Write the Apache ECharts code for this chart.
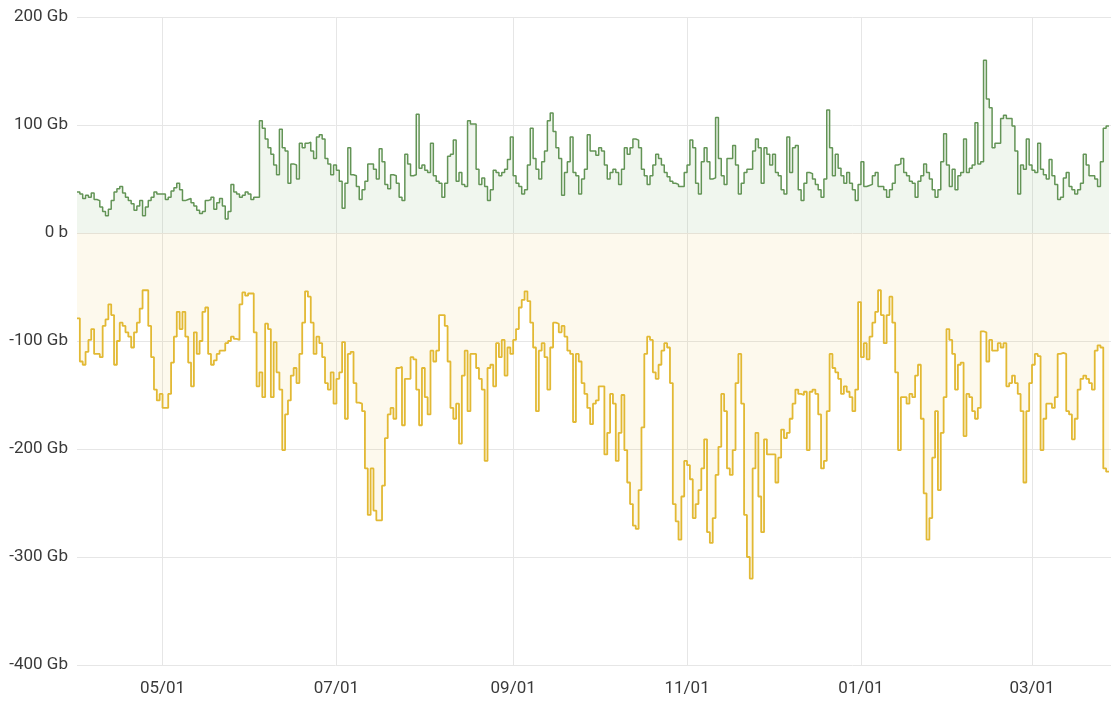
<!DOCTYPE html>
<html>
<head>
<meta charset="utf-8">
<script src="https://cdn.jsdelivr.net/npm/echarts@6/dist/echarts.min.js"></script>
<style>
  html, body { margin: 0; padding: 0; background: #fff; }
  #chart { width: 1111px; height: 702px; }
</style>
</head>
<body>
<div id="chart"></div>
<script>
// daily values, first day 2019-04-01 (Gb)
var startDate = [2019, 3, 1];

var inbound = [
  // Apr
  38,36,32,35,33,37,31,30,24,20, 16,22,30,38,41,43,37,33,30,27, 21,25,30,16,24,30,33,38,36,36,
  // May - early Jun
  36,31,33,39,42,46,40,30,31,32, 28,25,21,18,20,30,31,33,22,28, 32,25,13,20,45,38,36,33,35,38, 36,31,33,
  33,104,97,87,79,73,63,54,96,79, 76,46,64,63,50,83,79,83,84,76, 69,89,91,87,69,64,54,63,58,48,
  23,46,79,54,53,43,31,40,48,64, 64,59,50,78,66,45,41,54,53,46, 33,30,73,64,53,54,110,60,
  63,58,56,83,53,48,46,33,46,71, 73,86,48,56,45,43,104,101,101,59, 45,51,43,30,40,58,56,53,56,59,
  68,89,53,46,43,36,40,63,97,69, 59,50,66,76,104,111,94,79,69,35, 56,66,89,56,53,36,50,59,91,76, 76,
  72,79,76,63,50,56,59,56,45,59, 79,73,79,87,86,79,59,53,45,53, 63,73,69,63,56,52,48,46,45,43,
  43,56,63,86,79,46,36,66,79,66, 50,51,107,69,53,45,69,69,81,63, 36,46,56,59,59,76,87,79,46,79, 73,63,
  73,56,53,40,36,89,56,79,81,40, 30,46,56,55,50,45,40,33,50,114, 79,53,73,60,53,46,56,46,40,30,
  45,66,43,44,45,53,56,43,43,40, 33,40,46,63,64,69,56,53,48,46, 33,48,53,64,56,50,40,33,40,66, 92,
  63,43,59,40,53,56,87,56,60,63, 102,64,66,160,124,116,79,83,83,106, 109,106,106,99,76,36,63,59,87,63,
  58,56,83,59,54,50,68,53,45,31, 33,51,56,43,40,36,40,46,73,63, 53,53,50,43,66,97,99,99
];

var outbound = [
  -79,-119,-122,-110,-99,-89,-112,-112,-115,-86, -80,-66,-76,-122,-100,-83,-86,-92,-96,-106,
  -92,-83,-70,-53,-53,-86,-115,-145,-155,-149,
  -162,-162,-149,-120,-96,-73,-89,-73,-96,-120, -142,-92,-112,-100,-73,-69,-112,-122,-118,-112,
  -109,-109,-102,-100,-96,-98,-99,-66,-55,-58,
  -56,-56,-92,-142,-129,-152,-84,-89,-152,-101, -129,-145,-201,-168,-155,-132,-125,-139,-112,-83,
  -54,-59,-83,-112,-96,-102,-115,-139,-145,-129, -158,-135,-129,-101,-172,-112,-110,-139,-157,-158,
  -165,-218,-261,-218,-257,-266,-266,-234,-190,-168, -162,-172,-125,-124,-178,-135,-135,-115,-117,-145,
  -178,
  -125,-152,-168,-109,-119,-109,-76,-76,-86,-119, -162,-172,-158,-195,-132,-109,-165,-112,-112,-125,
  -135,-145,-211,-125,-122,-142,-102,-115,-99,-132, -106,-112,-99,-89,-69,-62,-54,-63,-83,-106,
  -165,-109,-102,-115,-145,-106,-83,-84,-92,-86, -96,-109,-112,-175,-112,-119,-139,-149,-162,-177,
  -158,
  -155,-142,-142,-205,-185,-149,-158,-211,-185,-150, -201,-231,-251,-271,-274,-238,-180,-112,-96,-99,
  -129,-135,-122,-109,-102,-106,-139,-251,-267,-284, -244,-211,-215,-228,-264,-251,-238,-218,-191,-277,
  -287,-264,-224,-198,-149,-165,-218,-224,-201,-139, -112,-158,-261,-300,-320,-218,-185,-244,-277,-191,
  -205,
  -205,-205,-231,-208,-182,-190,-185,-172,-158,-145, -149,-150,-147,-201,-147,-145,-149,-168,-218,-211,
  -165,-112,-125,-129,-135,-149,-142,-147,-152,-165, -145,-64,-115,-102,-117,-96,-83,-73,-53,-76,
  -102,-76,-59,-83,-129,-201,-152,-152,-158,-149, -152,-132,-122,-172,-241,-284,-264,-208,-165,-238,
  -185,-152,
  -89,-99,-112,-145,-122,-120,-188,-149,-152,-165, -172,-162,-91,-92,-119,-99,-109,-109,-102,-106,
  -102,-142,-139,-132,-139,-149,-165,-231,-165,-139, -122,-112,-114,-201,-172,-158,-158,-162,-152,-112,
  -111,-112,-165,-168,-191,-172,-145,-135,-132,-135, -139,-145,-109,-104,-106,-218,-221,-221
];

var yTicks = [-400, -300, -200, -100, 0, 100, 200];

function dayTime(i) {
  return new Date(startDate[0], startDate[1], startDate[2] + i).getTime();
}

var inData = inbound.map(function (v, i) { return [dayTime(i), v]; });
var outData = outbound.map(function (v, i) { return [dayTime(i), v]; });

var chart = echarts.init(document.getElementById('chart'), null, { renderer: 'canvas' });

chart.setOption({
  animation: false,
  backgroundColor: '#fff',
  textStyle: { fontFamily: 'Roboto' },
  grid: { left: 77, right: 0, top: 17, bottom: 37, containLabel: false },
  xAxis: {
    type: 'time',
    min: dayTime(0),
    max: new Date(2020, 2, 28, 17).getTime(),
    splitNumber: 5,
    axisLine: { show: false },
    axisTick: { show: false },
    axisLabel: {
      color: '#3a3a3a',
      fontSize: 17,
      margin: 15,
      showMinLabel: false,
      showMaxLabel: false,
      formatter: function (v) { return echarts.time.format(v, '{MM}/{dd}', false); }
    },
    splitLine: {
      show: true,
      showMinLine: false,
      showMaxLine: false,
      lineStyle: { color: '#e6e6e6', width: 1 }
    }
  },
  yAxis: {
    type: 'value',
    min: yTicks[0],
    max: yTicks[yTicks.length - 1],
    interval: 100,
    axisLine: { show: false },
    axisTick: { show: false },
    axisLabel: {
      color: '#3a3a3a',
      fontSize: 17,
      margin: 9,
      formatter: function (v) { return v === 0 ? '0 b' : v + ' Gb'; }
    },
    splitLine: { lineStyle: { color: '#e6e6e6', width: 1 } }
  },
  series: [
    {
      name: 'in',
      type: 'line',
      step: 'end',
      showSymbol: false,
      data: inData,
      lineStyle: { color: '#639456', width: 1.5 },
      itemStyle: { color: '#639456' },
      areaStyle: { color: 'rgba(126,178,109,0.17)' }
    },
    {
      name: 'out',
      type: 'line',
      step: 'end',
      showSymbol: false,
      data: outData,
      lineStyle: { color: '#e2b934', width: 1.8 },
      itemStyle: { color: '#e2b934' },
      areaStyle: { color: 'rgba(234,184,57,0.13)' }
    }
  ]
});
</script>
</body>
</html>
